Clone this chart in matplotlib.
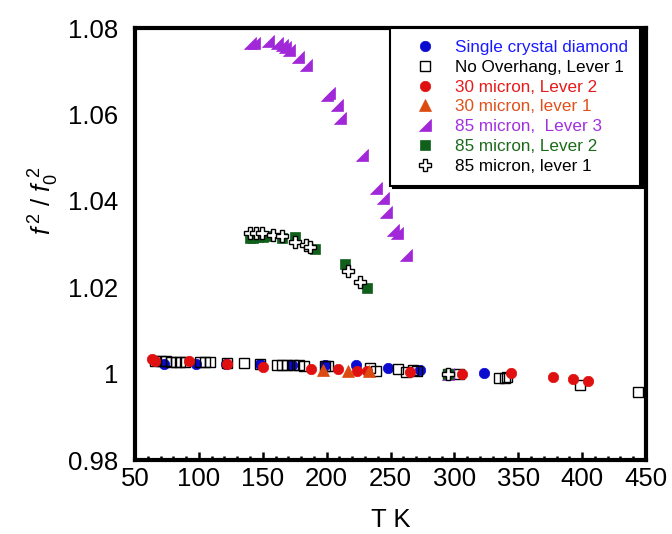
import matplotlib
matplotlib.use('Agg')
import matplotlib.pyplot as plt
import numpy as np
from matplotlib.path import Path
from matplotlib.ticker import MultipleLocator, FixedLocator, FuncFormatter

plt.rcParams['font.family'] = ['Liberation Sans', 'DejaVu Sans']
plt.rcParams['mathtext.fontset'] = 'custom'
plt.rcParams['mathtext.rm'] = 'Liberation Sans'
plt.rcParams['mathtext.it'] = 'Liberation Sans:italic'

# ---- data: normalised f^2/f0^2 vs temperature ----
scd_T = [73, 98, 121, 148, 173, 198.5, 223, 248, 273, 323]
scd_y = [1.0022, 1.0022, 1.0023, 1.0022, 1.0020, 1.0019, 1.0019, 1.0014, 1.0008, 1.0001]

noov_T = [66, 70, 74, 78, 82, 85, 89, 101, 105, 109, 122, 135, 148, 161, 165, 169, 174,
          178, 182, 199, 201, 234, 239, 256, 262, 268, 271, 295, 304, 335, 340, 341, 398, 444]
noov_y = [1.0030, 1.0029, 1.0029, 1.0028, 1.0028, 1.0028, 1.0027, 1.0027, 1.0027, 1.0026,
          1.0024, 1.0024, 1.0022, 1.0020, 1.0020, 1.0020, 1.0019, 1.0019, 1.0018, 1.0018,
          1.0018, 1.0012, 1.0007, 1.0010, 1.0004, 1.0008, 1.0007, 1.0000, 0.9999, 0.9989,
          0.9990, 0.9991, 0.9974, 0.9958]

m30_l2_T = [63, 66, 92, 122, 150, 188, 209, 223.5, 231.5, 265, 295, 305.7, 344, 377.4, 392.6, 404.8]
m30_l2_y = [1.0033, 1.0030, 1.0030, 1.0022, 1.0016, 1.0010, 1.0010, 1.0007, 1.0007, 1.0004,
            1.0000, 1.0000, 1.0001, 0.9993, 0.9987, 0.9984]

m30_l1_T = [197, 217, 233.4]
m30_l1_y = [1.0008, 1.0007, 1.0007]

m85_l3_T = [140, 143.2, 153.9, 160.9, 164.8, 167.4, 170.8, 177.8, 183.9, 200.1, 202.1,
            207.9, 210.5, 227.5, 238.7, 243.9, 246.5, 252.2, 254.9, 262.1, 295]
m85_l3_y = [1.0765, 1.0765, 1.0771, 1.0765, 1.0761, 1.0757, 1.0749, 1.0734, 1.0714, 1.0645,
            1.0649, 1.0621, 1.0591, 1.0506, 1.0429, 1.0406, 1.0375, 1.0332, 1.0325, 1.0275, 1.0000]

m85_l2_T = [140, 142.6, 146.5, 150.4, 154.3, 164.8, 175.2, 190.9, 214.4, 231.6, 295]
m85_l2_y = [1.0315, 1.0313, 1.0316, 1.0317, 1.0319, 1.0315, 1.0316, 1.0288, 1.0253, 1.0198, 1.0000]

m85_l1_T = [140, 144.7, 149.2, 157.8, 164.8, 175.2, 183.9, 187, 217, 226.1, 295]
m85_l1_y = [1.0325, 1.0325, 1.0325, 1.0321, 1.0319, 1.0305, 1.0298, 1.0294, 1.0238, 1.0212, 1.0000]

labels = ['Single crystal diamond', 'No Overhang, Lever 1', '30 micron, Lever 2',
          '30 micron, lever 1', '85 micron,  Lever 3', '85 micron, Lever 2',
          '85 micron, lever 1']

# colours
c_blue = '#0a0ad0'
c_red = '#e01010'
c_orange = '#dd4a10'
c_purple = '#a028d8'
c_green = '#10601c'
txt_colors = ['#1a1aff', 'black', '#e61a1a', '#e0501a', '#a030e0', '#1a6b1a', 'black']

# right-angle triangle marker
tri = Path([(-1, -1), (1, -1), (1, 1), (-1, -1)],
           [Path.MOVETO, Path.LINETO, Path.LINETO, Path.CLOSEPOLY])

fig = plt.figure(figsize=(6.72, 5.34), dpi=100)
ax = fig.add_axes([135/672, 74/534, 511/672, 432/534])

ax.plot(scd_T, scd_y, 'o', ms=7.5, mfc=c_blue, mec=c_blue, mew=0.5, label=labels[0])
ax.plot(noov_T, noov_y, 's', ms=6.5, mfc='none', mec='black', mew=1.0, label=labels[1])
ax.plot(m30_l2_T, m30_l2_y, 'o', ms=7.5, mfc=c_red, mec=c_red, mew=0.5, label=labels[2])
ax.plot(m30_l1_T, m30_l1_y, '^', ms=8, mfc=c_orange, mec=c_orange, mew=0.5, label=labels[3])
ax.plot(m85_l3_T, m85_l3_y, ls='none', marker=tri, ms=8.5, mfc=c_purple, mec=c_purple,
        mew=0.5, label=labels[4])
ax.plot(m85_l2_T, m85_l2_y, 's', ms=7.5, mfc=c_green, mec=c_green, mew=0.5, label=labels[5])
ax.plot(m85_l1_T, m85_l1_y, 'P', ms=8, mfc='white', mec='black', mew=1.0, label=labels[6])

ax.set_xlim(50, 450)
ax.set_ylim(0.98, 1.08)

ax.xaxis.set_major_locator(MultipleLocator(50))
ax.xaxis.set_minor_locator(MultipleLocator(10))
ax.yaxis.set_major_locator(FixedLocator([0.98, 1.0, 1.02, 1.04, 1.06, 1.08]))
ax.yaxis.set_major_formatter(FuncFormatter(lambda v, p: '1' if abs(v - 1) < 1e-9 else f'{v:.2f}'))

ax.tick_params(axis='x', which='major', direction='in', length=6, width=1.8,
               labelsize=18.5, pad=5, top=False)
ax.tick_params(axis='x', which='minor', direction='in', length=3, width=1.8, top=False)
ax.tick_params(axis='y', which='both', length=0, labelsize=18.5, pad=12)

for s in ax.spines.values():
    s.set_linewidth(3)

ax.set_xlabel('T K', fontsize=18.5, labelpad=12)
ax.set_ylabel(r'$f^{\,2}\ /\ f_0^{\ 2}$', fontsize=18.5)
ax.yaxis.set_label_coords(-0.145, 0.60)

leg = ax.legend(loc='upper right', bbox_to_anchor=(0.988, 1.0), fontsize=12.3,
                frameon=True, fancybox=False, shadow={'color': 'black', 'alpha': 1},
                borderpad=0.7, labelspacing=0.28, handletextpad=0.4, handlelength=2.7,
                borderaxespad=0.0, markerscale=1.0)
leg.get_frame().set_edgecolor('black')
leg.get_frame().set_linewidth(1.5)
leg.get_frame().set_alpha(1)
for t, c in zip(leg.get_texts(), txt_colors):
    t.set_color(c)

plt.savefig('out.png', dpi=100)
